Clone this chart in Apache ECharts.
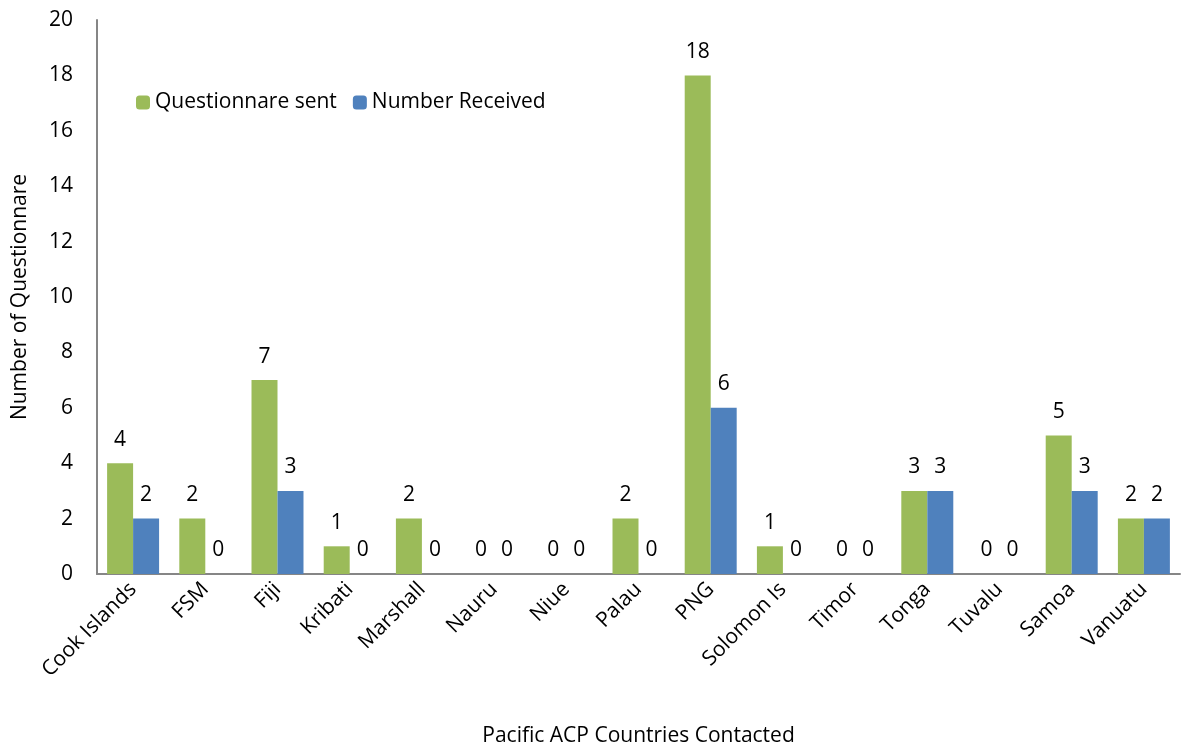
<!DOCTYPE html>
<html>
<head>
<meta charset="utf-8">
<script src="https://cdn.jsdelivr.net/npm/echarts@6/dist/echarts.min.js"></script>
<style>
  html, body { margin: 0; padding: 0; background: #fff; }
  #chart { width: 1181px; height: 746px; }
</style>
</head>
<body>
<div id="chart"></div>
<script>
  // countries on the x axis
  var countries = ['Cook Islands', 'FSM', 'Fiji', 'Kribati', 'Marshall', 'Nauru', 'Niue', 'Palau',
    'PNG', 'Solomon Is', 'Timor', 'Tonga', 'Tuvalu', 'Samoa', 'Vanuatu'];
  var sent = [4, 2, 7, 1, 2, 0, 0, 2, 18, 1, 0, 3, 0, 5, 2];
  var received = [2, 0, 3, 0, 0, 0, 0, 0, 6, 0, 0, 3, 0, 3, 2];
  var yTicks = [0, 20, 2]; // min, max, step

  var font = '"Open Sans", "Noto Sans", sans-serif';
  var fs = 21;
  var chart = echarts.init(document.getElementById('chart'));

  var labelStyle = {
    show: true,
    position: 'top',
    distance: 13,
    color: '#000',
    fontSize: fs,
    fontFamily: font
  };

  chart.setOption({
    animation: false,
    color: ['#9BBB59', '#4F81BD'],
    grid: { left: 97, right: 1, top: 20, bottom: 172, outerBoundsMode: 'none', containLabel: false },
    legend: {
      left: 131,
      top: 87,
      itemWidth: 14,
      itemHeight: 14,
      itemGap: 16,
      itemStyle: { borderWidth: 0 },
      textStyle: { fontSize: fs, fontFamily: font, color: '#000' },
      data: ['Questionnare sent', 'Number Received']
    },
    xAxis: {
      type: 'category',
      data: countries,
      name: 'Pacific ACP Countries Contacted',
      nameLocation: 'middle',
      nameGap: 152,
      nameTextStyle: { fontSize: fs, fontFamily: font, color: '#000' },
      axisLine: { lineStyle: { color: '#868686', width: 2 } },
      axisTick: { show: false },
      axisLabel: {
        rotate: 45,
        interval: 0,
        margin: 12,
        fontSize: fs,
        fontFamily: font,
        color: '#000'
      }
    },
    yAxis: {
      type: 'value',
      min: yTicks[0],
      max: yTicks[1],
      interval: yTicks[2],
      name: 'Number of Questionnare',
      nameLocation: 'middle',
      nameGap: 66,
      nameTextStyle: { fontSize: fs, fontFamily: font, color: '#000' },
      axisLine: { show: true, lineStyle: { color: '#868686', width: 2 } },
      axisTick: { show: false },
      splitLine: { show: false },
      axisLabel: { fontSize: fs, fontFamily: font, color: '#000', margin: 24 }
    },
    series: [
      {
        name: 'Questionnare sent',
        type: 'bar',
        data: sent,
        barGap: '0%',
        barCategoryGap: '28%',
        label: labelStyle
      },
      {
        name: 'Number Received',
        type: 'bar',
        data: received,
        label: labelStyle
      }
    ]
  });
</script>
</body>
</html>
